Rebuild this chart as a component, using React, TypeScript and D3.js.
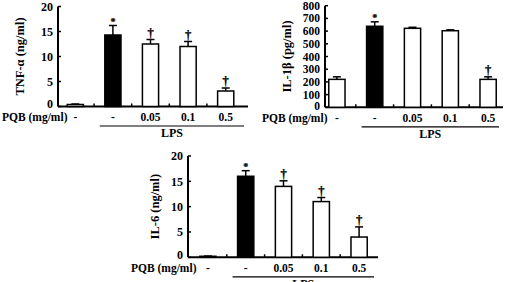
import React from "react";
import * as d3 from "d3";

const categories = ["-", "-", "0.05", "0.1", "0.5"];
const tnfValues = [0.4, 14.3, 12.5, 12.0, 3.1];
const tnfErrors = [0.1, 1.9, 0.9, 1.0, 0.6];
const tnfMarks = ["", "*", "†", "†", "†"];
const il1Values = [220, 638, 622, 603, 220];
const il1Errors = [20, 35, 8, 7, 20];
const il1Marks = ["", "*", "", "", "†"];
const il6Values = [0.2, 16.0, 14.0, 11.0, 4.0];
const il6Errors = [0.05, 1.1, 1.1, 0.8, 2.0];
const il6Marks = ["", "*", "†", "†", "†"];
const filled = [false, true, false, false, false];

const FONT = "Liberation Serif, DejaVu Serif, serif";

type PanelProps = {
  left: number; right: number; bandLeft: number; bandRight: number;
  y0: number; yTop: number; max: number; step: number;
  values: number[]; errors: number[]; marks: string[]; label: string;
  labelX: number; pqbX: number; tickFont: number; zeroLift: number;
};

function Panel(p: PanelProps) {
  const x = d3.scaleBand<string>().domain(categories.map((_, i) => String(i)))
    .range([p.bandLeft, p.bandRight]).paddingInner(0.57).paddingOuter(0.285);
  const y = d3.scaleLinear().domain([0, p.max]).range([p.y0, p.yTop]);
  const ticks = d3.range(0, p.max + p.step / 2, p.step);
  const bw = x.bandwidth();
  const centers = categories.map((_, i) => (x(String(i)) as number) + bw / 2);
  const lpsStart = centers[1] - bw / 2 - 5;
  const lpsEnd = p.right - 4;
  const labY = p.y0 + 10.5;
  const ts: React.CSSProperties = { fontFamily: FONT, fontWeight: 700 };
  return (
    <g>
      {/* y axis */}
      <line x1={p.left} x2={p.left} y1={p.yTop} y2={p.y0} stroke="#000" strokeWidth={2} />
      {ticks.map((t) => (
        <g key={t}>
          <line x1={p.left} x2={p.left + 3} y1={y(t)} y2={y(t)} stroke="#000" strokeWidth={1.5} />
          <text x={p.left - 5} y={y(t) - (t === 0 ? p.zeroLift : 0)} dy="0.35em" textAnchor="end"
            fontSize={p.tickFont} style={ts}>{t}</text>
        </g>
      ))}
      {/* x axis */}
      <line x1={p.left} x2={p.right} y1={p.y0} y2={p.y0} stroke="#000" strokeWidth={2} />
      {centers.slice(1).map((c, i) => {
        const m = (c + centers[i]) / 2;
        return <line key={i} x1={m} x2={m} y1={p.y0} y2={p.y0 - 3} stroke="#000" strokeWidth={1.5} />;
      })}
      {/* bars */}
      {p.values.map((v, i) => {
        const cx = centers[i];
        const top = y(v + p.errors[i]);
        return (
          <g key={i}>
            <line x1={cx} x2={cx} y1={y(v)} y2={top} stroke="#000" strokeWidth={1.5} />
            <line x1={cx - 4} x2={cx + 4} y1={top} y2={top} stroke="#000" strokeWidth={1.5} />
            <rect x={cx - bw / 2} y={y(v)} width={bw} height={p.y0 - y(v)}
              fill={filled[i] ? "#000" : "#fff"} stroke="#000" strokeWidth={1.5} />
            {p.marks[i] && (
              <text x={cx} y={top - (p.marks[i] === "*" ? 1 : 3)} textAnchor="middle"
                fontSize={p.marks[i] === "*" ? 10 : 12.5} fill="#000" stroke="#000" strokeWidth={0.25}
                style={{ fontFamily: FONT, fontWeight: 700 }}>{p.marks[i]}</text>
            )}
          </g>
        );
      })}
      {/* category labels */}
      {categories.map((c, i) => (
        <text key={i} x={centers[i]} y={labY} dy="0.35em" textAnchor="middle" fontSize={11.5} style={ts}>{c}</text>
      ))}
      <text x={p.pqbX} y={labY} dy="0.35em" fontSize={11.5} style={ts}>PQB (mg/ml)</text>
      <line x1={lpsStart} x2={lpsEnd} y1={p.y0 + 19.5} y2={p.y0 + 19.5} stroke="#000" strokeWidth={1.2} />
      <text x={(lpsStart + lpsEnd) / 2} y={p.y0 + 30.5} textAnchor="middle" fontSize={12} style={ts}>LPS</text>
      {/* y label */}
      <text transform={`translate(${p.labelX},${(p.y0 + p.yTop) / 2}) rotate(-90)`} textAnchor="middle"
        dy="0.35em" fontSize={12.5} style={ts}>{p.label}</text>
    </g>
  );
}

export default function App() {
  return (
    <svg width={511} height={282} style={{ position: "absolute", left: 0, top: 0, background: "#fff" }}>
      <rect width={511} height={282} fill="#fff" />
      <Panel left={58} right={248} bandLeft={56.5} bandRight={244.5} y0={106.5} yTop={6.5} max={20} step={5}
        values={tnfValues} errors={tnfErrors} marks={tnfMarks} label="TNF-α (ng/ml)" labelX={20} pqbX={2}
        tickFont={12} zeroLift={2.5} />
      <Panel left={325} right={503} bandLeft={318} bandRight={507} y0={107.3} yTop={5.7} max={800} step={100}
        values={il1Values} errors={il1Errors} marks={il1Marks} label="IL-1β (pg/ml)" labelX={287} pqbX={262}
        tickFont={11.5} zeroLift={1} />
      <Panel left={188} right={378} bandLeft={189} bandRight={378} y0={257.3} yTop={156} max={20} step={5}
        values={il6Values} errors={il6Errors} marks={il6Marks} label="IL-6 (ng/ml)" labelX={155} pqbX={131}
        tickFont={12} zeroLift={2.5} />
    </svg>
  );
}
